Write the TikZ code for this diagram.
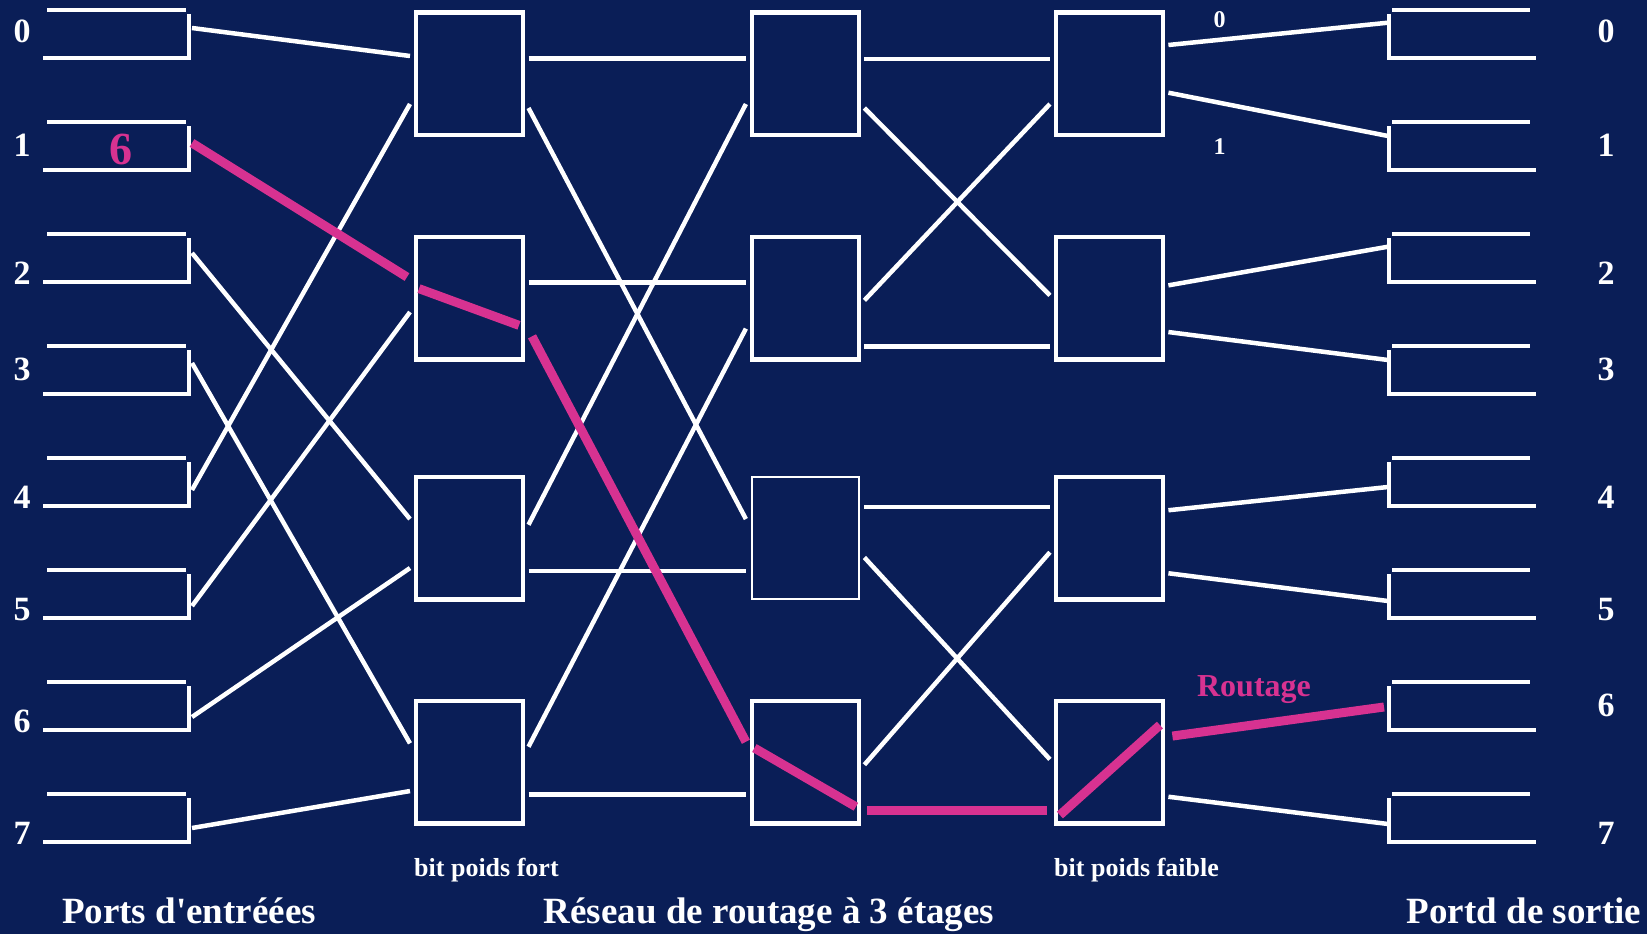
\documentclass[tikz,border=0pt]{standalone}
\usepackage{fontspec}
\setmainfont{Liberation Serif}
\usetikzlibrary{calc}
\definecolor{navy}{RGB}{10,30,87}
\definecolor{routepink}{RGB}{215,50,145}
\tikzset{
  wire/.style={white, line width=4.5pt},
  route/.style={routepink, line width=9pt},
  switchbox/.style={draw=white, line width=4.5pt, minimum width=107pt,
    minimum height=122.5pt, inner sep=0pt, outer sep=0pt},
  portnum/.style={white, inner sep=0pt, font=\fontsize{34}{40}\selectfont\bfseries},
  bitnum/.style={white, inner sep=0pt, font=\fontsize{24}{28}\selectfont\bfseries},
  bitlab/.style={white, inner sep=0pt, anchor=base west, font=\fontsize{26}{30}\selectfont\bfseries},
  title/.style={white, inner sep=0pt, anchor=base, font=\fontsize{37}{44}\selectfont\bfseries},
}
\begin{document}
\begin{tikzpicture}[x=1pt, y=-1pt]
    \fill[navy] (0,0) rectangle (1647,934);

    % Input ports
    \foreach \i/\dy/\ly in {0/18/31.7, 1/21/145.7, 2/19/273, 3/17/369, 4/32/497, 5/36/610, 6/35/721.7, 7/34/833.3}{
        \pgfmathsetmacro\ptop{10+112*\i}
        \draw[wire] (47,\ptop) -- (186,\ptop);
        \draw[wire] (189,\ptop+4) -- (189,\ptop+48);
        \draw[wire] (43,\ptop+48) -- (191,\ptop+48);
        \coordinate (in\i) at (192,\ptop+\dy);
        \node[portnum] (inlab\i) at (22,\ly) {\i};
    }

    % Output ports
    \foreach \i/\dy/\ly in {0/12.7/31.7, 1/14/145.7, 2/12.7/273.3, 3/14/369, 4/29/497, 5/31/610, 6/25/705, 7/30/833.3}{
        \pgfmathsetmacro\ptop{10+112*\i}
        \draw[wire] (1392,\ptop) -- (1530,\ptop);
        \draw[wire] (1389,\ptop+4) -- (1389,\ptop+48);
        \draw[wire] (1387,\ptop+48) -- (1536,\ptop+48);
        \coordinate (out\i) at (1388,\ptop+\dy);
        \node[portnum] (outlab\i) at (1606,\ly) {\i};
    }

    % Switch boxes
    \foreach \st/\x in {1/469.5, 3/1109.4}
        \foreach \row/\y in {0/73.75, 1/298.3, 2/538, 3/762}
            \node[switchbox] (s\st b\row) at (\x,\y) {};
    \node[switchbox] (s2b0) at (805.4,73.75) {};
    \node[switchbox] (s2b1) at (805.4,298.3) {};
    \node[switchbox, line width=2pt] (s2b2) at (805.4,538) {};
    \node[switchbox] (s2b3) at (805.4,762) {};

    % Ports -> stage 1
    \draw[wire] (in0) -- ($(s1b0.north west)+(-6,43.5)$);
    \draw[wire] (in4) -- ($(s1b0.north west)+(-6,91.5)$);
    \draw[wire] (in5) -- ($(s1b1.north west)+(-6,75)$);
    \draw[wire] (in2) -- ($(s1b2.north west)+(-6,42.3)$);
    \draw[wire] (in6) -- ($(s1b2.north west)+(-6,91.3)$);
    \draw[wire] (in3) -- ($(s1b3.north west)+(-6,42.6)$);
    \draw[wire] (in7) -- ($(s1b3.north west)+(-6,90.3)$);

    % Stage 1 -> stage 2
    \draw[wire] ($(s1b0.north east)+(5.5,46)$) -- ($(s2b0.north west)+(-6,46)$);
    \draw[wire] ($(s1b0.north east)+(5.5,95.5)$) -- ($(s2b2.north west)+(-6,42.3)$);
    \draw[wire] ($(s1b1.north east)+(5.5,45.6)$) -- ($(s2b1.north west)+(-6,45.6)$);
    \draw[wire] ($(s1b2.north east)+(5.5,48)$) -- ($(s2b0.north west)+(-6,91.5)$);
    \draw[wire] ($(s1b2.north east)+(5.5,94)$) -- ($(s2b2.north west)+(-6,94)$);
    \draw[wire] ($(s1b3.north east)+(5.5,46)$) -- ($(s2b1.north west)+(-6,91.6)$);
    \draw[wire] ($(s1b3.north east)+(5.5,93.6)$) -- ($(s2b3.north west)+(-6,93.6)$);

    % Stage 2 -> stage 3
    \draw[wire] ($(s2b0.north east)+(5.5,46.5)$) -- ($(s3b0.north west)+(-6,46.5)$);
    \draw[wire] ($(s2b0.north east)+(5.5,95.5)$) -- ($(s3b1.north west)+(-6,58.3)$);
    \draw[wire] ($(s2b1.north east)+(5.5,63.3)$) -- ($(s3b0.north west)+(-6,91.5)$);
    \draw[wire] ($(s2b1.north east)+(5.5,109.3)$) -- ($(s3b1.north west)+(-6,109.3)$);
    \draw[wire] ($(s2b2.north east)+(5.5,30)$) -- ($(s3b2.north west)+(-6,30)$);
    \draw[wire] ($(s2b2.north east)+(5.5,80.7)$) -- ($(s3b3.north west)+(-6,58.6)$);
    \draw[wire] ($(s2b3.north east)+(5.5,64)$) -- ($(s3b2.north west)+(-6,75.5)$);

    % Stage 3 -> ports
    \draw[wire] ($(s3b0.north east)+(5.5,32.5)$) -- (out0);
    \draw[wire] ($(s3b0.north east)+(5.5,80.2)$) -- (out1);
    \draw[wire] ($(s3b1.north east)+(5.5,48.3)$) -- (out2);
    \draw[wire] ($(s3b1.north east)+(5.5,95)$) -- (out3);
    \draw[wire] ($(s3b2.north east)+(5.5,33.5)$) -- (out4);
    \draw[wire] ($(s3b2.north east)+(5.5,96.5)$) -- (out5);
    \draw[wire] ($(s3b3.north east)+(5.5,96)$) -- (out7);

    % Route from port 1 to port 6
    \draw[route] (in1) -- ($(s1b1.north west)+(-9,40)$);
    \draw[route] ($(s1b1.north west)+(3,51.6)$) -- ($(s1b1.north east)+(-4,88.3)$);
    \draw[route] ($(s1b1.north east)+(9,99.3)$) -- ($(s2b3.north west)+(-6,41)$);
    \draw[route] ($(s2b3.north west)+(2.5,47.3)$) -- ($(s2b3.north east)+(-3,106)$);
    \draw[route] ($(s2b3.north east)+(8.5,109.3)$) -- ($(s3b3.north west)+(-8.5,109.3)$);
    \draw[route] ($(s3b3.north west)+(4,114.3)$) -- ($(s3b3.north east)+(-3,24.3)$);
    \draw[route] ($(s3b3.north east)+(9.5,35.3)$) -- ([xshift=-4pt]out6);

    \node[routepink, inner sep=0pt, font=\fontsize{46}{50}\selectfont\bfseries] (dest) at (121,149) {6};
    \node[routepink, inner sep=0pt, font=\fontsize{32}{36}\selectfont\bfseries] (routelab) at (1254,690) {Routage};

    \node[bitnum] (bitzero) at (1219.5,20) {0};
    \node[bitnum] (bitone) at (1219.5,146.7) {1};
    \node[bitlab] (msb) at (414,876) {bit poids fort};
    \node[bitlab] (lsb) at (1054,876) {bit poids faible};

    \node[title] (intitle) at (189,923) {Ports d\textquotesingle entréées};
    \node[title] (nettitle) at (769,923) {Réseau de routage à 3 étages};
    \node[title] (outtitle) at (1524,923) {Portd de sortie};
\end{tikzpicture}
\end{document}
